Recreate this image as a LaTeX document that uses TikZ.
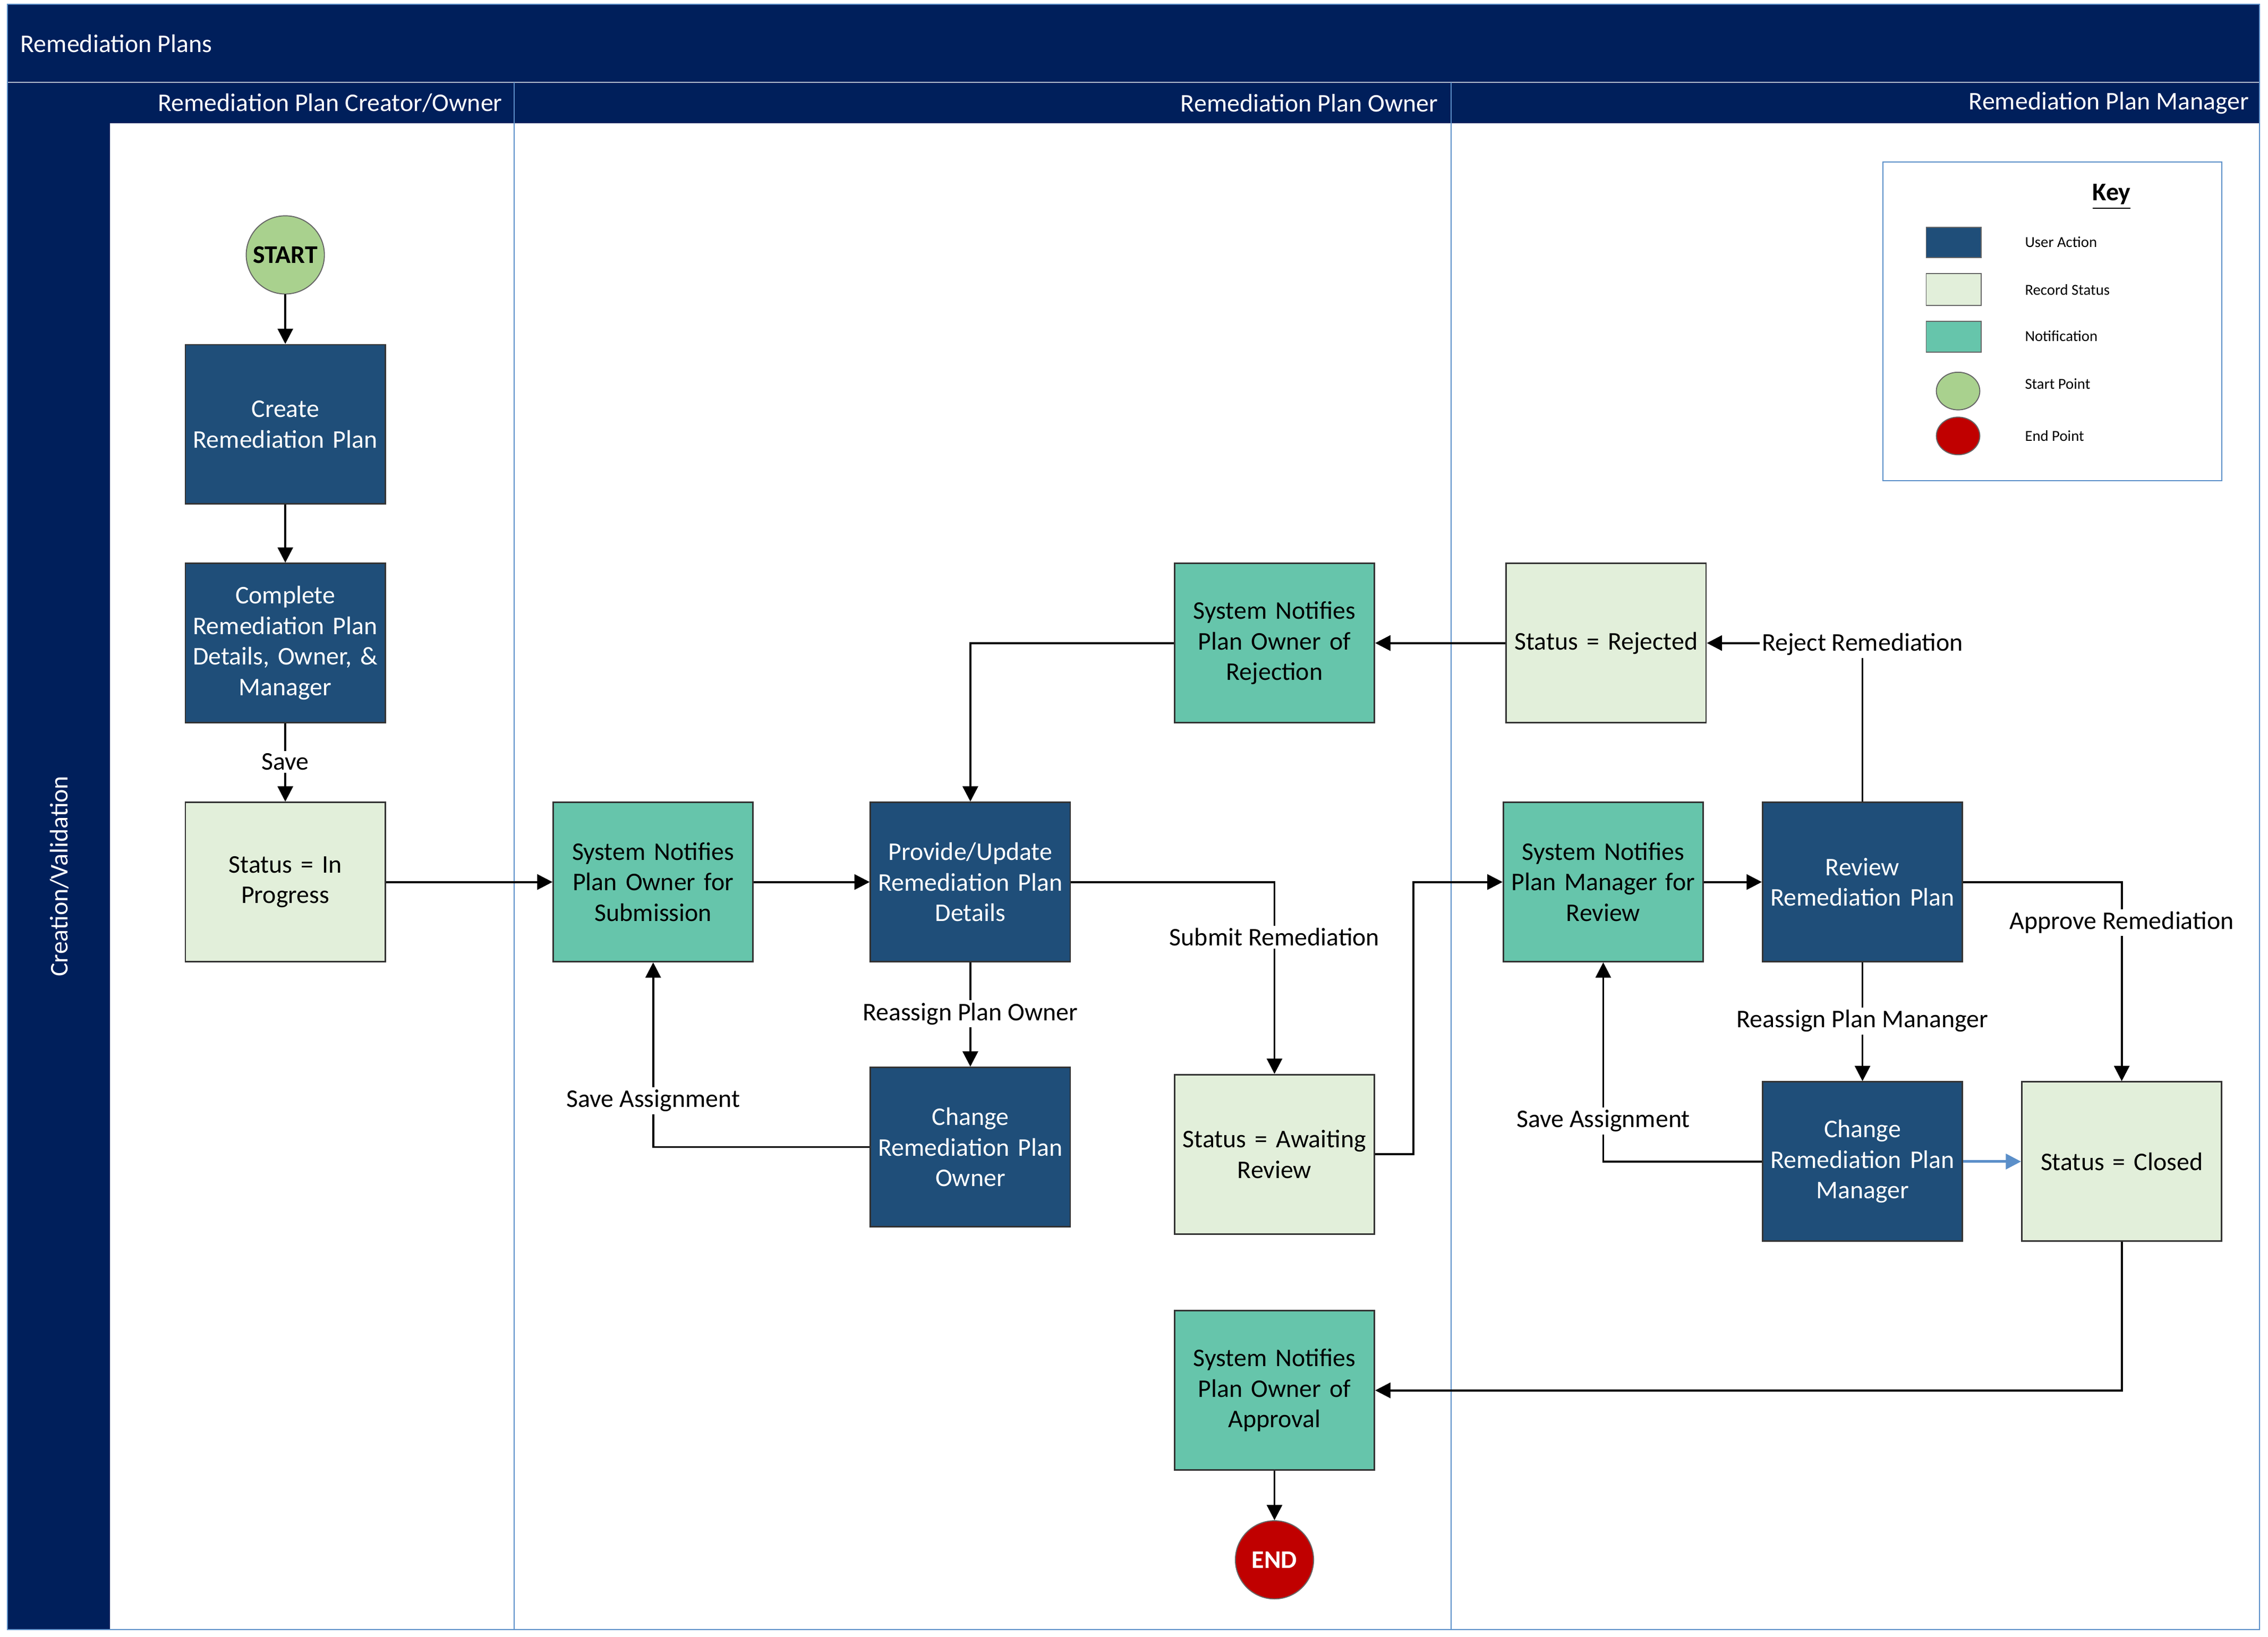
\documentclass[tikz,border=0pt]{standalone}
\usepackage{fontspec}
\setmainfont{Carlito}
\usetikzlibrary{arrows.meta}
\definecolor{navy}{HTML}{001F5B}
\definecolor{ua}{HTML}{1F4E79}
\definecolor{rs}{HTML}{E2EFDA}
\definecolor{nt}{HTML}{66C5AB}
\definecolor{sp}{HTML}{A9D18E}
\definecolor{ep}{HTML}{C00000}
\definecolor{lane}{HTML}{5B8FC9}
\begin{document}
\begin{tikzpicture}[x=0.02cm,y=-0.02cm,font=\fontsize{10}{12}\selectfont,
 box/.style={draw=black!80,line width=0.6pt,minimum width=2.76cm,minimum height=2.2cm,text width=2.76cm,align=center,inner sep=0pt},
 act/.style={box,fill=ua,text=white},
 rec/.style={box,fill=rs},
 note/.style={box,fill=nt},
 arr/.style={-{Triangle[length=6pt,width=6pt]},black,line width=0.8pt},
 lbl/.style={fill=white,inner sep=1pt},
 keyt/.style={font=\fontsize{6}{7}\selectfont,anchor=west}]
\useasboundingbox (0,0) rectangle (1566,1130);
\fill[white] (0,0) rectangle (1566,1130);
\fill[navy] (5,3) rectangle (1560,85);
\draw[white!70!navy] (5,57) -- (1560,57);
\draw[lane] (355,57)--(355,85) (1002,57)--(1002,85);
\fill[navy] (5,85) rectangle (76,1125);
\draw[lane] (5,3) rectangle (1560,1125);
\draw[lane] (355,85)--(355,1125) (1002,85)--(1002,1125);
\node[text=white,anchor=west] (title) at (8,30) {Remediation Plans};
\node[text=white,anchor=east] (l1) at (353,71) {Remediation Plan Creator/Owner};
\node[text=white,anchor=east] (l2) at (999,71) {Remediation Plan Owner};
\node[text=white,anchor=east] (l3) at (1559,71) {Remediation Plan Manager};
\node[text=white,rotate=90] (band) at (41,605) {Creation/Validation};
% key
\draw[lane,fill=white] (1300,112) rectangle (1534,332);
\node[font=\fontsize{10}{12}\selectfont\bfseries] (kt) at (1458,136) {\underline{Key}};
\draw[black!60,fill=ua] (1330,157) rectangle (1368,178);
\draw[black!60,fill=rs] (1330,189) rectangle (1368,211);
\draw[black!60,fill=nt] (1330,222) rectangle (1368,243);
\draw[black!60,fill=sp] (1352,270) ellipse (15 and 13);
\draw[black!60,fill=ep] (1352,301) ellipse (15 and 13);
\node[keyt] (k1) at (1392,167) {User Action};
\node[keyt] (k2) at (1392,200) {Record Status};
\node[keyt] (k3) at (1392,232) {Notification};
\node[keyt] (k4) at (1392,265) {Start Point};
\node[keyt] (k5) at (1392,301) {End Point};
% nodes
\node[circle,draw=black!60,fill=sp,minimum size=1.08cm,inner sep=0pt,font=\fontsize{10}{12}\selectfont\bfseries] (start) at (197,176) {START};
\node[act] (create) at (197,293) {Create\\Remediation Plan};
\node[act] (complete) at (197,444) {Complete\\Remediation Plan\\Details, Owner, \&\\Manager};
\node[rec] (inprog) at (197,609) {Status = In\\Progress};
\node[note] (notifsub) at (451,609) {System Notifies\\Plan Owner for\\Submission};
\node[act] (provide) at (670,609) {Provide/Update\\Remediation Plan\\Details};
\node[act] (changeowner) at (670,792) {Change\\Remediation Plan\\Owner};
\node[note] (notifrej) at (880,444) {System Notifies\\Plan Owner of\\Rejection};
\node[rec] (rejected) at (1109,444) {Status = Rejected};
\node[rec] (awaiting) at (880,797) {Status = Awaiting\\Review};
\node[note] (notifrev) at (1107,609) {System Notifies\\Plan Manager for\\Review};
\node[act] (review) at (1286,609) {Review\\Remediation Plan};
\node[act] (changemgr) at (1286,802) {Change\\Remediation Plan\\Manager};
\node[rec] (closed) at (1465,802) {Status = Closed};
\node[note] (notifapp) at (880,960) {System Notifies\\Plan Owner of\\Approval};
\node[circle,draw=black!60,fill=ep,text=white,minimum size=1.08cm,inner sep=0pt,font=\fontsize{10}{12}\selectfont\bfseries] (end) at (880,1077) {END};
% edges
\draw[arr] (start) -- (create);
\draw[arr] (create) -- (complete);
\draw[arr] (complete) -- (inprog);
\node[lbl] (sv) at (197,526) {Save};
\draw[arr] (inprog) -- (notifsub);
\draw[arr] (notifsub) -- (provide);
\draw[arr] (provide) -- (changeowner);
\node[lbl] (rpo) at (670,700) {Reassign Plan Owner};
\draw[arr] (changeowner.west) -| (notifsub.south);
\node[lbl] (sa1) at (451,760) {Save Assignment};
\draw[arr] (provide.east) -| (awaiting.north);
\node[lbl] (sr) at (880,647) {Submit Remediation};
\coordinate (c1) at (976,797);
\coordinate (c2) at (976,609);
\draw[arr] (awaiting.east) -- (c1) -- (c2) -- (notifrev.west);
\draw[arr] (notifrev) -- (review);
\draw[arr] (review.north) |- (rejected.east);
\node[lbl] (rejl) at (1286,445) {Reject Remediation};
\draw[arr] (rejected) -- (notifrej);
\draw[arr] (notifrej.west) -| (provide.north);
\draw[arr] (review) -- (changemgr);
\node[lbl] (rpm) at (1286,705) {Reassign Plan Mananger};
\draw[arr] (changemgr.west) -| (notifrev.south);
\node[lbl] (sa2) at (1107,774) {Save Assignment};
\draw[-{Triangle[length=6pt,width=6pt]},lane,line width=1pt] (changemgr) -- (closed);
\draw[arr] (review.east) -| (closed.north);
\node[lbl] (ar) at (1465,637) {Approve Remediation};
\draw[arr] (closed.south) |- (notifapp.east);
\draw[arr] (notifapp) -- (end);
\end{tikzpicture}
\end{document}
